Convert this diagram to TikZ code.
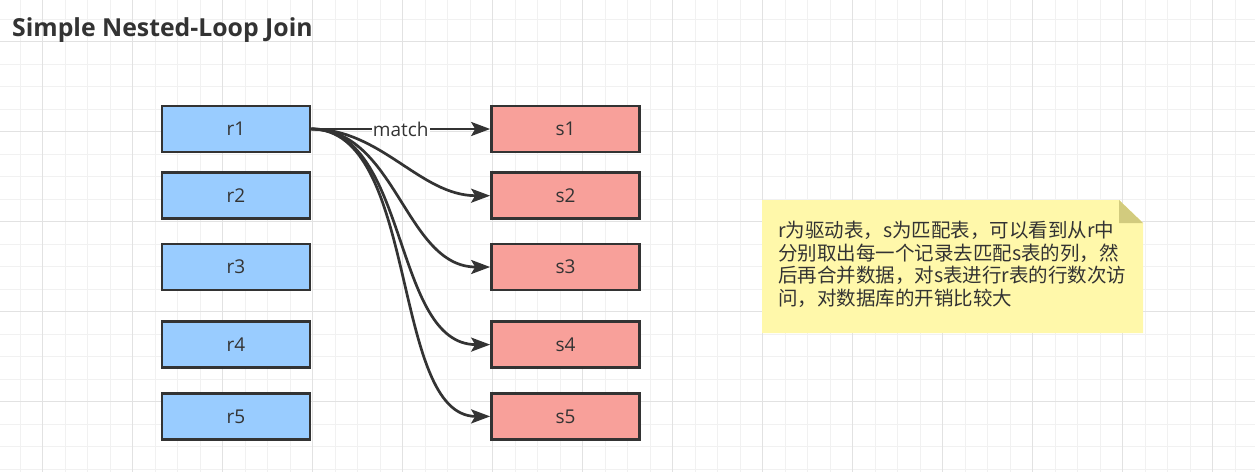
\documentclass[tikz,border=0pt]{standalone}
\usepackage{fontspec}
\setmainfont{Open Sans}
\newfontfamily\cjkfont{Noto Sans CJK SC}
\usetikzlibrary{arrows.meta}
\definecolor{gridminor}{RGB}{241,241,241}
\definecolor{gridmajor}{RGB}{226,226,226}
\definecolor{boxline}{RGB}{51,51,51}
\definecolor{txt}{RGB}{51,51,51}
\definecolor{bluefill}{RGB}{153,204,255}
\definecolor{redfill}{RGB}{248,160,154}
\definecolor{notefill}{RGB}{255,248,170}
\definecolor{notefold}{RGB}{210,203,126}
\tikzset{
  box/.style={draw=boxline, line width=2.7pt, minimum width=148pt, minimum height=46pt,
    inner sep=0pt, font=\fontsize{19}{22}\selectfont, text=txt},
  rbox/.style={box, fill=bluefill},
  sbox/.style={box, fill=redfill},
  conn/.style={draw=boxline, line width=2.7pt, -{Stealth[length=19pt,width=14pt,inset=4pt]}},
  lbl/.style={fill=white, inner sep=1pt, font=\fontsize{19}{22}\selectfont, text=txt}
}
\begin{document}
\begin{tikzpicture}[x=1pt,y=-1pt]
\useasboundingbox (0,0) rectangle (1255,472);
\fill[white] (0,0) rectangle (1255,472);
% grid
\foreach \k in {0,...,56} {\draw[gridminor, line width=1pt] ({-2.5+22.5*\k},0) -- ({-2.5+22.5*\k},472);}
\foreach \k in {0,...,21} {\draw[gridminor, line width=1pt] (0,{-3.3+22.5*\k}) -- (1255,{-3.3+22.5*\k});}
\foreach \k in {0,...,13} {\draw[gridmajor, line width=1pt] ({42.5+90*\k},0) -- ({42.5+90*\k},472);}
\foreach \k in {0,...,4} {\draw[gridmajor, line width=1pt] (0,{41.7+90*\k}) -- (1255,{41.7+90*\k});}
% title
\node[anchor=base west, inner sep=0, font=\fontsize{24.8}{29}\selectfont\bfseries, text=txt] (title) at (12,36) {Simple Nested-Loop Join};
% boxes
\node[rbox] (r1) at (236,129) {r1};
\node[rbox] (r2) at (236,195.7) {r2};
\node[rbox] (r3) at (236,267) {r3};
\node[rbox] (r4) at (236,344.6) {r4};
\node[rbox] (r5) at (236,416.4) {r5};
\node[sbox] (s1) at (565.5,129) {s1};
\node[sbox] (s2) at (565.5,195.7) {s2};
\node[sbox] (s3) at (565.5,267) {s3};
\node[sbox] (s4) at (565.5,344.6) {s4};
\node[sbox] (s5) at (565.5,416.4) {s5};
% connectors
\draw[conn] (r1.east) -- node[lbl] (matchlbl) {match} (s1.west);
\draw[conn] (r1.east) .. controls +(70,0) and +(-70,0) .. (s2.west);
\draw[conn] (r1.east) .. controls +(85,0) and +(-85,0) .. (s3.west);
\draw[conn] (r1.east) .. controls +(98,0) and +(-98,0) .. (s4.west);
\draw[conn] (r1.east) .. controls +(108,0) and +(-100,0) .. (s5.west);
% note
\fill[notefill] (762,200) -- (1119,200) -- (1143,223) -- (1143,333) -- (762,333) -- cycle;
\fill[notefold] (1119,200) -- (1119,223) -- (1143,223) -- cycle;
\node[anchor=north west, inner sep=0, align=left, font=\cjkfont\fontsize{19.5}{22.6}\selectfont, text=txt] (notetext) at (778,221)
{r为驱动表，s为匹配表，可以看到从r中\\分别取出每一个记录去匹配s表的列，然\\后再合并数据，对s表进行r表的行数次访\\问，对数据库的开销比较大};
\end{tikzpicture}
\end{document}
